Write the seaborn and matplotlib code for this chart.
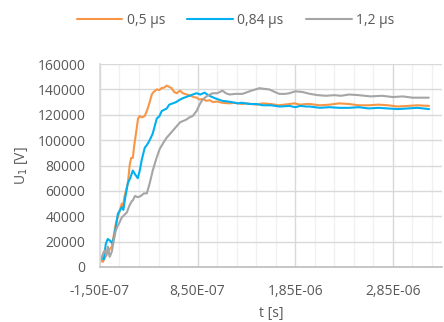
#!/usr/bin/env python3
# coding: utf-8

import numpy as np
import pandas as pd
import seaborn as sns
from matplotlib import pyplot as plt
from matplotlib.ticker import FixedLocator

# time in units of 1e-7 s, voltage in kV (converted below)
t_05 = [-1.5, -1.4, -1.2, -1.0, -0.8, -0.68, -0.5, -0.28, -0.1, 0.1, 0.23, 0.45,
        0.74, 0.85, 1.0, 1.26, 1.36, 1.56, 1.7, 1.87, 2.0, 2.28, 2.4, 2.58, 2.8,
        3.09, 3.4, 3.6, 3.81, 4.0, 4.32, 4.6, 4.8, 5.1, 5.34, 5.6, 5.85, 6.1,
        6.36, 6.7, 7.0, 7.38, 7.8, 8.1, 8.4, 8.7, 9.0, 9.4, 9.7, 10.1, 10.5,
        11.0, 11.77, 12.3, 13, 13.6, 14.5, 15.2, 16, 16.8, 17.9, 18.4, 19, 19.6,
        20, 21, 22, 23, 24, 25, 26, 27, 28, 29, 30, 31, 32.2]
u_05 = [3, 6, 4, 7, 10, 11, 14, 16, 24, 33, 37, 42, 50, 47, 55, 63, 66, 81, 86,
        86, 95, 110, 117, 119, 118, 119, 125, 130, 136, 138, 140, 139.5, 141,
        141.5, 143, 142, 141, 138, 137, 139, 137, 136, 135, 134, 133.5, 132,
        132.5, 131, 131.5, 130, 130.5, 129.5, 129, 129.5, 128.5, 129, 128, 129,
        128.5, 127.5, 128.5, 129, 128, 128.5, 128.5, 127.5, 128, 129, 128.5,
        127.5, 127.5, 128, 127.5, 126.5, 127, 127.5, 127]

t_084 = [-1.5, -1.3, -1.1, -0.9, -0.7, -0.5, -0.28, -0.1, 0.03, 0.2, 0.34, 0.5,
         0.74, 0.9, 1.1, 1.36, 1.6, 1.87, 2.1, 2.38, 2.58, 2.8, 3.09, 3.3, 3.6,
         3.9, 4.32, 4.6, 4.83, 5.1, 5.34, 5.6, 5.95, 6.3, 6.7, 6.97, 7.3, 7.68,
         8.0, 8.4, 8.8, 9.21, 9.5, 9.72, 10.3, 11.05, 11.6, 12, 12.6, 13, 13.8,
         14.5, 15.2, 16, 16.9, 17.9, 18.5, 19, 19.7, 20, 21, 22, 23, 24, 25, 26,
         27, 28, 29, 30, 31, 32.2]
u_084 = [5, 7, 6, 18, 22, 21, 19, 22, 27, 35, 42, 44, 47, 45, 55, 66, 70, 76, 73,
         70, 76, 85, 94, 96, 100, 105, 117, 119, 123, 124, 125, 128, 129, 130,
         132, 133, 134, 135, 136, 137, 136, 137.5, 136, 135, 133, 131, 130.5,
         130, 129, 129.5, 128.5, 128.5, 127.5, 127.5, 126.5, 127, 126, 127,
         126.5, 126.5, 125.5, 126, 125.5, 125.5, 126, 125, 125.5, 125, 124.5,
         125, 125.5, 124.5]

t_12 = [-1.5, -1.3, -1.1, -0.99, -0.85, -0.68, -0.5, -0.28, -0.1, 0.1, 0.3, 0.5,
        0.74, 1.0, 1.26, 1.5, 1.77, 1.87, 2.1, 2.38, 2.7, 3.0, 3.3, 3.6, 3.91,
        4.3, 4.62, 5.0, 5.34, 5.8, 6.36, 6.7, 6.97, 7.3, 7.68, 8.0, 8.4, 8.7,
        9.01, 9.5, 10.03, 10.5, 11.05, 11.4, 11.77, 12.4, 13.09, 14, 14.83, 15.3,
        15.85, 16.4, 16.87, 17.5, 17.89, 18.5, 19.21, 20, 20.8, 21.66, 22.5,
        23.2, 24.01, 25, 26.2, 27.38, 28.5, 29.5, 30.5, 31.5, 32.17]
u_12 = [4, 8, 12, 13, 9, 16, 8, 12, 20, 28, 32, 35, 39, 41, 43, 48, 52, 52.5, 56,
        55, 56, 58, 58, 66, 76, 86, 93, 98, 102, 106, 111, 114, 115, 116, 118,
        119, 123, 128, 132, 135, 137, 137, 139, 137, 136, 136.5, 136.5, 139, 141,
        140.5, 140, 138, 136.5, 136.5, 137, 138.5, 138, 136.5, 135.5, 135, 135.5,
        135, 136, 135.5, 134.5, 135, 134, 134.5, 133.5, 133.5, 133.5]

labels = ["0,5 µs", "0,84 µs", "1,2 µs"]
colors = ["#F79646", "#00B0F0", "#A5A5A5"]

y_ticks = list(range(0, 160001, 20000))
x_ticks = [-1.5e-7, 8.5e-7, 1.85e-6, 2.85e-6]


def excel_sci(v):
    return "{:.2E}".format(v).replace(".", ",")


frames = []
for lab, t, u in zip(labels, [t_05, t_084, t_12], [u_05, u_084, u_12]):
    frames.append(pd.DataFrame({"t": np.array(t) * 1e-7,
                                "U": np.array(u) * 1000.0,
                                "series": lab}))
df = pd.concat(frames, ignore_index=True)

sns.set_theme(style="white")
plt.rcParams["font.family"] = ["Open Sans", "DejaVu Sans"]

fig = plt.figure(figsize=(4.44, 3.22), dpi=100)
ax = fig.add_axes([0.225, 0.171, 0.77, 0.63])

sns.lineplot(data=df, x="t", y="U", hue="series", palette=colors,
             hue_order=labels, linewidth=1.5, ax=ax, legend=False,
             estimator=None, sort=False)

ax.set_xlim(-1.5e-7, 3.35e-6)
ax.set_ylim(0, 160000)
ax.yaxis.set_major_locator(FixedLocator(y_ticks))
ax.set_yticklabels([str(v) for v in y_ticks])
ax.xaxis.set_major_locator(FixedLocator(x_ticks))
ax.set_xticklabels([excel_sci(v) for v in x_ticks])
ax.xaxis.set_minor_locator(FixedLocator(np.arange(-1.5e-7, 3.4e-6, 2e-7)))

ax.grid(True, which="minor", axis="x", color="#F0F0F0", linewidth=1)
ax.grid(True, which="major", axis="x", color="#D9D9D9", linewidth=1)
ax.grid(True, which="major", axis="y", color="#D9D9D9", linewidth=1)
ax.set_axisbelow(True)

for s in ["top", "right"]:
    ax.spines[s].set_visible(False)
ax.spines["left"].set_color("#D9D9D9")
ax.spines["bottom"].set_color("#BFBFBF")
ax.tick_params(axis="y", which="both", length=0, labelsize=10,
               labelcolor="#595959", pad=10.5)
ax.tick_params(axis="x", which="both", length=0, labelsize=10,
               labelcolor="#595959", pad=12)

ax.set_xlabel("t [s]", fontsize=10, color="#595959", labelpad=5)
ax.set_ylabel("U$_1$ [V]", fontsize=10, color="#595959", labelpad=5)

handles = [plt.Line2D([], [], color=c, linewidth=1.5) for c in colors]
fig.legend(handles, labels, loc="upper center", bbox_to_anchor=(0.53, 1.0),
           ncol=3, frameon=False, handlelength=3.3, handletextpad=0.3,
           columnspacing=1.6, prop={"size": 10},
           labelcolor="#595959")

fig.savefig("out.png", dpi=100)
